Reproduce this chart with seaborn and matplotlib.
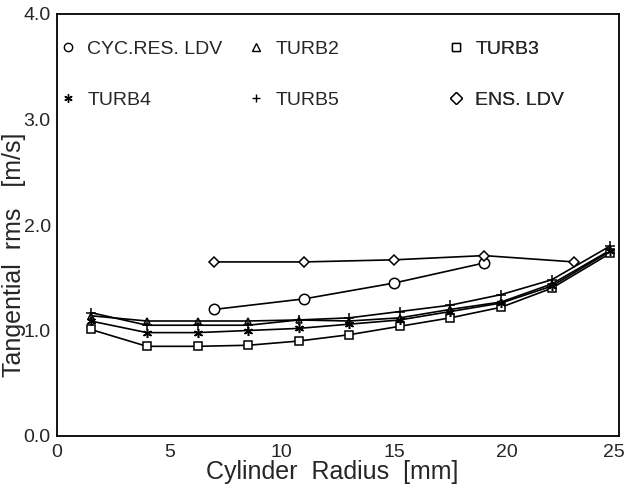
import matplotlib
matplotlib.use("Agg")
import matplotlib.pyplot as plt
import matplotlib.transforms as mtransforms
from matplotlib.lines import Line2D
import pandas as pd
import seaborn as sns

# ---- data ----
radius_turb = [1.5, 4.0, 6.25, 8.5, 10.75, 13.0, 15.25, 17.5, 19.75, 22.0, 24.6]
turb2 = [1.14, 1.09, 1.09, 1.09, 1.10, 1.09, 1.12, 1.20, 1.27, 1.44, 1.76]
turb3 = [1.01, 0.85, 0.85, 0.86, 0.90, 0.96, 1.04, 1.12, 1.22, 1.40, 1.73]
turb4 = [1.09, 0.98, 0.98, 1.00, 1.02, 1.06, 1.10, 1.18, 1.26, 1.42, 1.75]
turb5 = [1.17, 1.05, 1.05, 1.05, 1.10, 1.12, 1.18, 1.24, 1.34, 1.48, 1.80]
radius_cyc = [7.0, 11.0, 15.0, 19.0]
cyc_res_ldv = [1.20, 1.30, 1.45, 1.64]
radius_ens = [7.0, 11.0, 15.0, 19.0, 23.0]
ens_ldv = [1.65, 1.65, 1.67, 1.71, 1.65]

x_ticks = [0, 5, 10, 15, 20, 25]
y_ticks = [0.0, 1.0, 2.0, 3.0, 4.0]
y_tick_labels = ["0.0", "1.0", "2.0", "3.0", "4.0"]

sns.set_style("white")
FONT = ["Liberation Sans", "DejaVu Sans"]
plt.rcParams["font.family"] = FONT

fig = plt.figure(figsize=(6.25, 4.84), dpi=100)
W, H = 625, 484
ax = fig.add_axes([57 / W, 48 / H, 562 / W, 422 / H])

asterisk = (6, 2, 0)
series = [
    ("CYC.RES. LDV", radius_cyc, cyc_res_ldv, "o", 7.5),
    ("TURB2", radius_turb, turb2, "^", 4.5),
    ("TURB3", radius_turb, turb3, "s", 6.0),
    ("TURB4", radius_turb, turb4, asterisk, 6.5),
    ("TURB5", radius_turb, turb5, "+", 7.5),
    ("ENS. LDV", radius_ens, ens_ldv, "D", 5.5),
]

for name, xs, ys, mk, ms in series:
    df = pd.DataFrame({"r": xs, "v": ys})
    sns.lineplot(data=df, x="r", y="v", ax=ax, color="black", lw=1.2,
                 marker=mk, markersize=ms, markerfacecolor="white",
                 markeredgecolor="black", markeredgewidth=1.1, legend=False)

ax.set_xlim(0, 25)
ax.set_ylim(0, 4.0)
ax.set_xticks(x_ticks)
ax.set_xticklabels([str(t) for t in x_ticks])
ax.set_yticks(y_ticks)
ax.set_yticklabels(y_tick_labels)
ax.tick_params(axis="x", direction="in", length=5, width=1, labelsize=14, pad=6)
ax.tick_params(axis="y", direction="out", length=3, width=1, labelsize=14, pad=1.5)
for s in ax.spines.values():
    s.set_visible(True)
    s.set_color("black")
    s.set_linewidth(1.3)

# nudge the last x tick label so it stays inside the canvas
for lab in ax.get_xticklabels():
    if lab.get_text() == "25":
        lab.set_transform(lab.get_transform() +
                          mtransforms.ScaledTranslation(-5 / 100, 0, fig.dpi_scale_trans))

ax.set_xlabel("Cylinder  Radius  [mm]", fontsize=18)
ax.set_ylabel("Tangential  rms   [m/s]", fontsize=18)
ax.xaxis.set_label_coords(0.49, -0.056)
ax.yaxis.set_label_coords((26 - 57) / 562, 0.43)

# legend: three columns of two entries
cols = [
    [series[0], series[3]],
    [series[1], series[4]],
    [series[2], series[5]],
]
col_x_px = [60, 248, 448]
for cx, entries in zip(col_x_px, cols):
    handles = [Line2D([], [], ls="none", marker=e[3], markersize=6,
                      markerfacecolor="white", markeredgecolor="black",
                      markeredgewidth=1.0, color="black") for e in entries]
    labels = [e[0] for e in entries]
    leg = ax.legend(handles, labels, loc="upper left", frameon=False,
                    bbox_to_anchor=((cx - 57) / 562, 1 - (40 - 14) / 422),
                    borderaxespad=0, borderpad=0, handlelength=0.8,
                    handletextpad=0.6, labelspacing=1.75, fontsize=14)
    ax.add_artist(leg)

fig.savefig("out.png", dpi=100)
